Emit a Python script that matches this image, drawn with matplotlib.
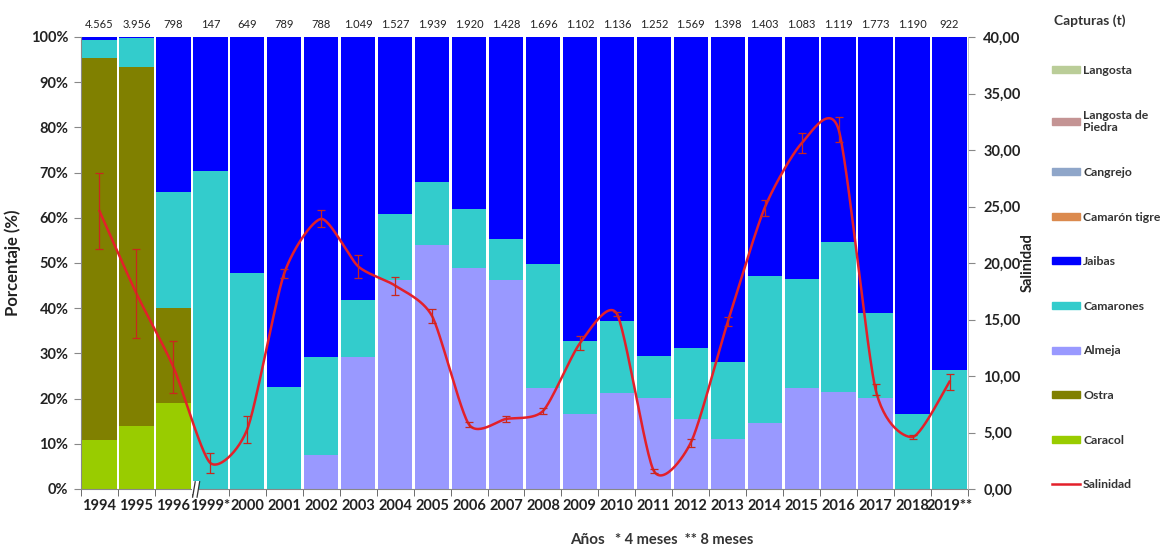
import matplotlib
matplotlib.use("Agg")
import matplotlib.pyplot as plt
import matplotlib.patches as mpatches
from matplotlib.lines import Line2D
import numpy as np

plt.rcParams['font.family'] = ['Lato', 'DejaVu Sans']

years = ['1994', '1995', '1996', '1999*', '2000', '2001', '2002', '2003', '2004',
         '2005', '2006', '2007', '2008', '2009', '2010', '2011', '2012', '2013',
         '2014', '2015', '2016', '2017', '2018', '2019**']
capturas = ['4.565', '3.956', '798', '147', '649', '789', '788', '1.049', '1.527',
            '1.939', '1.920', '1.428', '1.696', '1.102', '1.136', '1.252', '1.569',
            '1.398', '1.403', '1.083', '1.119', '1.773', '1.190', '922']

# porcentaje de cada especie en la captura anual (%)
caracol = [10.8, 13.9, 19.0, 0, 0, 0, 0, 0, 0, 0, 0, 0, 0, 0, 0, 0, 0, 0, 0, 0, 0, 0, 0, 0]
ostra = [84.5, 79.4, 21.0, 0, 0, 0, 0, 0, 0, 0, 0, 0, 0, 0, 0, 0, 0, 0, 0, 0, 0, 0, 0, 0]
almeja = [0, 0, 0, 0, 0, 0, 7.5, 29.3, 46.2, 54.0, 49.0, 46.2, 22.3, 16.6, 21.2,
          20.1, 15.4, 11.0, 14.5, 22.3, 21.5, 20.2, 0, 0]
camarones = [4.0, 6.4, 25.6, 70.4, 47.8, 22.5, 21.8, 12.5, 14.6, 14.0, 12.9, 9.0,
             27.5, 16.1, 16.0, 9.3, 15.9, 17.2, 32.6, 24.2, 33.2, 18.8, 16.6, 26.3]
jaibas = [0.7, 0.3, 34.4, 29.6, 52.2, 77.5, 70.7, 58.2, 39.2, 32.0, 38.1, 44.8,
          50.2, 67.3, 62.8, 70.6, 68.7, 71.8, 52.9, 53.5, 45.3, 61.0, 83.4, 73.7]
camaron_tigre = [0] * 24
cangrejo = [0] * 24
langosta_piedra = [0] * 24
langosta = [0] * 24

# salinidad media y desviacion
salinidad = [24.6, 17.3, 10.8, 2.3, 5.3, 19.1, 23.9, 19.7, 18.0, 15.3, 5.7, 6.2,
             6.9, 12.9, 15.5, 1.6, 4.1, 14.8, 24.9, 30.6, 31.8, 8.8, 4.6, 9.5]
sal_err = [3.4, 3.9, 2.3, 0.85, 1.2, 0.4, 0.75, 1.0, 0.8, 0.6, 0.2, 0.25, 0.3, 0.6,
           0.2, 0.2, 0.35, 0.4, 0.7, 0.9, 1.1, 0.5, 0.2, 0.7]

series = [
    ('Caracol', caracol, '#99CC00'),
    ('Ostra', ostra, '#808000'),
    ('Almeja', almeja, '#9999FF'),
    ('Camarones', camarones, '#33CCCC'),
    ('Jaibas', jaibas, '#0000FF'),
    ('Camarón tigre', camaron_tigre, '#DB8A4E'),
    ('Cangrejo', cangrejo, '#8FA6C9'),
    ('Langosta de\nPiedra', langosta_piedra, '#C49494'),
    ('Langosta', langosta, '#BACD98'),
]


def smooth(x, y, s=0.7, n=30):
    # spline cardinal (hermite) para suavizar la linea
    p = np.column_stack([x, y]).astype(float)
    ext = np.vstack([p[0], p, p[-1]])
    m = s * (ext[2:] - ext[:-2]) / 2
    t = np.linspace(0, 1, n)[:, None]
    h00 = 2 * t ** 3 - 3 * t ** 2 + 1
    h10 = t ** 3 - 2 * t ** 2 + t
    h01 = -2 * t ** 3 + 3 * t ** 2
    h11 = t ** 3 - t ** 2
    out = [h00 * p[i] + h10 * m[i] + h01 * p[i + 1] + h11 * m[i + 1]
           for i in range(len(p) - 1)]
    out = np.vstack(out)
    return out[:, 0], out[:, 1]


fig = plt.figure(figsize=(11.65, 5.48), dpi=100)
ax = fig.add_axes([81 / 1165, 1 - 489 / 548, 887 / 1165, 452 / 548])

x = np.arange(len(years))
bottom = np.zeros(len(years))
handles = []
for name, vals, col in series:
    vals = np.array(vals, dtype=float)
    ax.bar(x, vals, bottom=bottom, width=0.93, color=col, linewidth=0)
    bottom += vals
    handles.append(mpatches.Patch(color=col, label=name))

ax.set_xlim(-0.5, len(years) - 0.5)
ax.set_ylim(0, 100)
ax.set_yticks(np.arange(0, 101, 10))
ax.set_yticklabels([f'{v}%' for v in range(0, 101, 10)])
ax.set_xticks(x)
ax.set_xticklabels(years)
ax.set_xticks(np.arange(-0.5, len(years), 1), minor=True)
ax.tick_params(axis='x', which='major', length=0, pad=7, labelsize=10.5)
ax.tick_params(axis='x', which='minor', length=5, color='#555555')
ax.tick_params(axis='y', length=5, color='#888888', labelsize=10.5, pad=4)
for lab in ax.get_xticklabels() + ax.get_yticklabels():
    lab.set_fontweight('bold')
    lab.set_color('#222222')
ax.spines['top'].set_visible(False)
ax.spines['right'].set_visible(False)
for s in ['left', 'bottom']:
    ax.spines[s].set_color('#888888')
    ax.spines[s].set_linewidth(0.8)
ax.set_ylabel('Porcentaje (%)', fontsize=12, fontweight='bold', labelpad=7,
              color='#222222')

# total capturado encima de cada barra
for xi, c in zip(x, capturas):
    ax.text(xi, 1.015, c, transform=ax.get_xaxis_transform(), ha='center',
            va='bottom', fontsize=8, color='#222222')

# corte del eje entre 1996 y 1999
trans = ax.get_xaxis_transform()
ax.add_patch(mpatches.Rectangle((2.5, -0.012), 0.2, 0.03, transform=trans,
                                facecolor='white', edgecolor='none', clip_on=False, zorder=5))
for dx in (2.52, 2.64):
    ax.plot([dx, dx + 0.07], [-0.018, 0.016], transform=trans, color='#333333',
            lw=0.9, clip_on=False, zorder=6)

ax2 = ax.twinx()
ax2.set_ylim(0, 40)
ax2.set_yticks(np.arange(0, 41, 5))
ax2.set_yticklabels([f'{v},00' for v in range(0, 41, 5)])
ax2.tick_params(axis='y', length=5, color='#888888', labelsize=10.5, pad=6)
for lab in ax2.get_yticklabels():
    lab.set_fontweight('bold')
    lab.set_color('#222222')
for s in ['top', 'left', 'bottom']:
    ax2.spines[s].set_visible(False)
ax2.spines['right'].set_color('#bbbbbb')
ax2.spines['right'].set_linewidth(0.6)
ax2.set_ylabel('Salinidad', fontsize=10.5, fontweight='bold', labelpad=0,
               color='#222222')

sx, sy = smooth(x, salinidad)
ax2.plot(sx, sy, color='#E3202A', lw=1.8, zorder=4)
ax2.errorbar(x, salinidad, yerr=sal_err, fmt='none', ecolor='#C8281E', elinewidth=0.9,
             capsize=3, capthick=0.9, zorder=5)

leg_handles = handles[::-1] + [Line2D([], [], color='#E3202A', lw=1.8, label='Salinidad')]
leg = fig.legend(handles=leg_handles, loc='upper left',
                 bbox_to_anchor=(1052 / 1165, 1 - 65 / 548), frameon=False,
                 fontsize=8.8, labelspacing=2.75, handlelength=2.3, handleheight=0.5,
                 handletextpad=0.25, borderaxespad=0, borderpad=0)
for t in leg.get_texts():
    t.set_fontweight('bold')
    t.set_color('#333333')
fig.text(1090 / 1165, 1 - 21 / 548, 'Capturas (t)', ha='center', va='center',
         fontsize=10, fontweight='bold', color='#333333')

fig.text(570 / 1165, 1 - 540 / 548, 'Años', ha='left', va='center',
         fontsize=11, fontweight='bold', color='#333333')
fig.text(615 / 1165, 1 - 540 / 548, '* 4 meses  ** 8 meses', ha='left', va='center',
         fontsize=10.5, fontweight='bold', color='#333333')

fig.savefig('out.png', dpi=100)
